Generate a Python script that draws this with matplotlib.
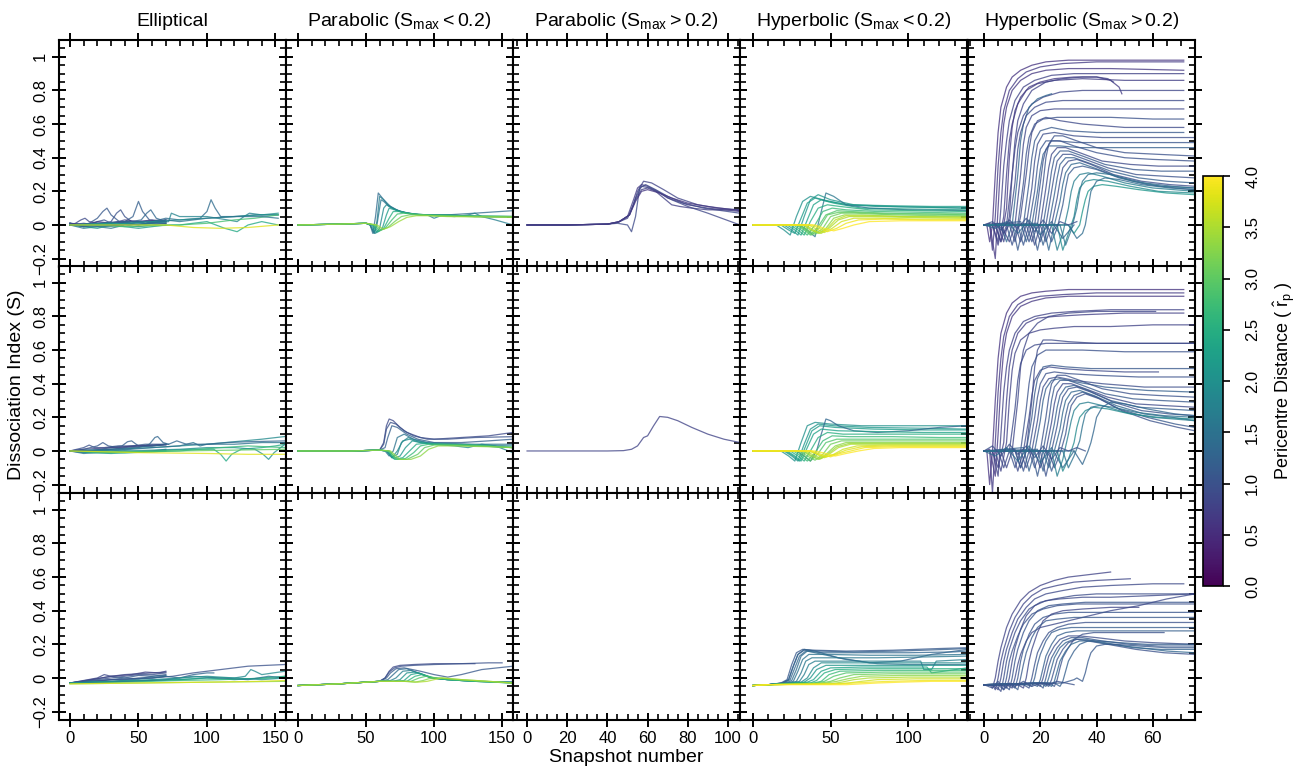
import numpy as np
import matplotlib
matplotlib.use("Agg")
import matplotlib.pyplot as plt
from matplotlib.ticker import MultipleLocator, FixedLocator, FixedFormatter
from matplotlib import cm, colors

plt.rcParams['font.family'] = ['Liberation Sans', 'DejaVu Sans']
plt.rcParams['mathtext.fontset'] = 'custom'
plt.rcParams['mathtext.rm'] = 'Liberation Sans'
plt.rcParams['mathtext.it'] = 'Liberation Sans:italic'
plt.rcParams['mathtext.bf'] = 'Liberation Sans:bold'

# Titres des colonnes
col_titles = ['Elliptical',
              r'Parabolic $\left(\mathrm{S_{max}<0.2}\right)$',
              r'Parabolic $\left(\mathrm{S_{max}>0.2}\right)$',
              r'Hyperbolic $\left(\mathrm{S_{max}<0.2}\right)$',
              r'Hyperbolic $\left(\mathrm{S_{max}>0.2}\right)$']

# Axes x par colonne
x_limits = [(-8, 157.7), (-8.8, 158), (-7, 106), (-8.3, 137.8), (-5.7, 75)]
x_major = [50, 50, 20, 50, 20]
x_minor = [10, 10, 5, 10, 5]
y_ticks = [-0.2, 0, 0.2, 0.4, 0.6, 0.8, 1.0]
y_tick_labels = ['\u22120.2', '0', '0.2', '0.4', '0.6', '0.8', '1']
cbar_ticks = [0.0, 0.5, 1.0, 1.5, 2.0, 2.5, 3.0, 3.5, 4.0]

# Courbes: (rp, snapshots, S)
ell_top = [
    (1.0, [0,5,10,15,20,25,30,35,40,45,50,55,60,65,70], [0.01,0.0,-0.01,0.0,0.02,0.03,0.01,0.0,0.02,0.01,0.02,0.01,0.02,0.02,0.02]),
    (1.1, [0,8,14,20,24,27,30,36,45,55,70], [0.01,0.0,0.01,0.04,0.08,0.10,0.06,0.02,0.01,0.02,0.02]),
    (1.2, [0,10,20,30,40,46,50,53,58,65,70], [0.01,-0.01,0.0,0.01,0.02,0.05,0.14,0.08,0.03,0.02,0.03]),
    (1.0, [0,10,20,30,34,37,40,45,55,70], [0.0,0.01,0.0,0.02,0.07,0.09,0.05,0.02,0.01,0.02]),
    (1.3, [0,15,30,45,52,56,59,63,70], [0.01,0.0,0.01,0.02,0.03,0.07,0.09,0.04,0.02]),
    (0.9, [0,4,8,11,14,20,30,40,50,60,70], [0.0,0.01,0.03,0.04,0.02,0.01,0.0,0.01,0.0,0.01,0.01]),
    (1.6, [0,10,20,30,40,50,60,70], [0.0,-0.02,-0.01,-0.02,0.0,-0.01,0.0,0.01]),
    (2.2, [0,10,20,30,40,50,60,70], [0.0,-0.01,-0.02,0.0,-0.01,-0.02,-0.01,0.0]),
    (0.8, [0,10,20,30,40,50,60,70], [0.01,0.0,0.02,0.01,0.03,0.02,0.03,0.02]),
    (0.7, [0,10,20,30,40,50,60,70], [0.0,0.005,0.01,0.015,0.02,0.02,0.025,0.03]),
    (1.2, [0,10,20,30,40,50,60,70], [0.005,-0.01,0.0,-0.005,0.01,0.0,0.015,0.01]),
    (1.4, [0,20,40,60,70,80,95,100,103,106,110,120,135,152], [0.0,0.01,0.02,0.02,0.04,0.03,0.04,0.08,0.15,0.1,0.05,0.05,0.06,0.06]),
    (1.8, [0,30,60,72,74,80,100,115,122,127,131,140,152], [0.0,0.0,0.01,0.02,0.07,0.05,0.05,0.03,0.02,0.05,0.07,0.06,0.06]),
    (2.4, [0,30,60,80,100,113,122,130,140,152], [0.0,0.01,0.0,0.0,0.02,-0.02,-0.04,0.0,0.02,0.0]),
    (2.8, [0,40,80,100,120,135,152], [0.0,-0.01,0.0,0.01,0.03,0.04,0.06]),
    (2.0, [0,20,40,60,80,100,120,140,152], [0.0,0.0,0.01,0.02,0.03,0.04,0.05,0.06,0.07]),
    (1.5, [0,20,40,60,70,80,90,100,120,140,152], [0.0,-0.01,0.0,0.01,0.03,0.02,0.03,0.04,0.05,0.05,0.04]),
    (3.8, [0,40,70,90,110,130,152], [0.0,0.0,0.0,-0.015,-0.02,-0.015,0.0]),
]
ell_mid = [
    (1.0, [0,10,14,18,25,35,45,55,70], [0.0,0.02,0.035,0.02,0.02,0.03,0.03,0.03,0.04]),
    (1.1, [0,10,20,24,28,35,45,55,65,70], [0.0,0.01,0.03,0.05,0.03,0.02,0.03,0.04,0.04,0.04]),
    (1.2, [0,15,30,38,42,45,50,60,70], [0.0,0.0,0.02,0.03,0.055,0.06,0.03,0.03,0.04]),
    (0.9, [0,10,20,30,40,50,60,70], [0.0,-0.01,0.0,0.01,0.02,0.03,0.03,0.04]),
    (1.3, [0,20,40,50,58,62,64,68,72], [0.0,0.0,0.01,0.02,0.04,0.08,0.086,0.05,0.04]),
    (1.6, [0,10,20,30,40,50,60,70], [0.0,-0.015,-0.01,-0.01,0.0,-0.005,0.0,0.01]),
    (2.3, [0,15,30,45,60,70], [0.0,-0.01,-0.015,-0.01,-0.005,0.0]),
    (0.8, [0,10,20,30,40,50,60,70], [0.0,0.01,0.015,0.02,0.025,0.03,0.035,0.035]),
    (1.9, [0,30,60,80,100,120,140,157], [0.0,0.01,0.02,0.03,0.04,0.055,0.07,0.086]),
    (1.5, [0,30,60,80,85,90,95,100,120,140,157], [0.0,0.0,0.02,0.03,0.04,0.05,0.03,0.04,0.04,0.05,0.05]),
    (2.4, [0,30,60,90,105,110,114,118,125,140,150,157], [0.0,-0.01,0.0,0.01,0.01,-0.02,-0.06,-0.02,0.01,0.02,0.03,0.04]),
    (2.0, [0,40,80,100,120,135,141,145,149,157], [0.0,0.0,0.01,0.02,0.02,0.01,-0.02,-0.05,-0.01,0.04]),
    (3.0, [0,40,80,120,157], [0.0,-0.005,0.0,0.005,0.01]),
    (2.7, [0,40,80,110,130,157], [0.0,-0.01,0.0,0.02,0.03,0.02]),
    (1.3, [0,30,60,72,78,85,100,115,130,157], [0.0,0.01,0.03,0.04,0.06,0.04,0.04,0.05,0.055,0.06]),
    (3.8, [0,50,100,130,157], [0.0,-0.01,-0.015,-0.02,-0.02]),
]
ell_bot = [
    (1.0, [0,10,20,30,40,50,60,70], [-0.03,-0.02,-0.01,0.0,0.01,0.02,0.02,0.03]),
    (0.9, [0,10,20,25,30,40,50,60,70], [-0.03,-0.015,0.0,0.02,0.01,0.02,0.025,0.03,0.035]),
    (1.1, [0,10,20,30,40,50,60,70], [-0.03,-0.02,-0.005,0.01,0.0,0.015,0.01,0.02]),
    (1.2, [0,10,20,30,40,50,60,70], [-0.03,-0.025,-0.02,-0.01,-0.01,0.0,0.0,0.01]),
    (0.8, [0,15,30,45,55,65,70], [-0.03,-0.01,0.01,0.02,0.035,0.03,0.04]),
    (1.3, [0,10,20,30,40,50,60,70], [-0.03,-0.02,-0.015,-0.01,0.0,-0.005,0.01,0.015]),
    (1.0, [0,30,60,75,90,110,130,157], [-0.03,-0.01,0.0,0.01,0.03,0.05,0.07,0.08]),
    (1.3, [0,30,60,70,80,90,100,105], [-0.03,-0.02,0.0,0.01,0.0,0.02,0.03,0.03]),
    (1.9, [0,40,80,100,120,128,132,135,140,157], [-0.03,-0.02,-0.01,0.0,0.0,0.01,0.05,0.04,0.02,0.04]),
    (2.3, [0,40,80,100,120,140,157], [-0.03,-0.02,-0.01,0.0,-0.01,0.0,0.01]),
    (2.6, [0,40,80,110,130,150,157], [-0.03,-0.025,-0.015,-0.01,-0.005,0.0,0.01]),
    (1.6, [0,40,70,90,110,130,145,157], [-0.03,-0.02,-0.01,0.01,0.0,-0.01,0.01,0.0]),
    (2.0, [0,30,60,80,100,120,140,157], [-0.03,-0.02,-0.01,0.0,0.01,0.0,-0.01,0.0]),
    (3.2, [0,50,100,157], [-0.035,-0.03,-0.025,-0.02]),
    (3.8, [0,50,100,140,157], [-0.035,-0.03,-0.025,-0.02,-0.015]),
]
par_lo_top = [
    (1.4, [0,30,50,53,55,57,59,62,66,72,80,90,110,130,158], [0.0,0.005,0.01,0.0,-0.05,0.05,0.19,0.16,0.12,0.09,0.07,0.06,0.06,0.07,0.085]),
    (1.6, [0,30,50,53,56,58,61,63,67,72,80,90,110,130,158], [0.0,0.005,0.01,0.0,-0.05,0.0,0.15,0.14,0.11,0.09,0.07,0.06,0.06,0.05,0.05]),
    (1.7, [0,30,50,53,56,58,60,63,68,75,85,95,100,105,115,125,130,135,145,158], [0.0,0.005,0.01,0.0,-0.05,0.02,0.17,0.15,0.11,0.08,0.065,0.06,0.04,0.055,0.05,0.06,0.07,0.05,0.03,0.0]),
    (1.9, [0,30,50,54,57,60,63,65,69,75,82,90,110,135,158], [0.0,0.005,0.01,0.0,-0.05,-0.02,0.10,0.12,0.10,0.08,0.07,0.06,0.06,0.05,0.045]),
    (2.2, [0,30,50,55,58,62,65,67,71,77,85,95,120,158], [0.0,0.005,0.01,0.0,-0.045,-0.02,0.06,0.1,0.09,0.075,0.065,0.06,0.055,0.05]),
    (2.5, [0,30,50,55,59,63,67,70,74,80,88,100,130,158], [0.0,0.005,0.01,0.0,-0.04,-0.02,0.04,0.08,0.08,0.07,0.06,0.055,0.05,0.05]),
    (2.8, [0,30,50,56,60,64,69,73,78,85,95,120,158], [0.0,0.005,0.01,0.0,-0.035,-0.02,0.03,0.065,0.07,0.065,0.06,0.055,0.05]),
    (3.1, [0,30,50,57,61,66,71,76,82,90,100,130,158], [0.0,0.005,0.01,0.0,-0.03,-0.015,0.02,0.05,0.06,0.06,0.055,0.05,0.05]),
    (3.4, [0,30,50,58,63,68,74,80,87,95,110,158], [0.0,0.005,0.01,0.0,-0.025,-0.01,0.02,0.045,0.055,0.055,0.05,0.045]),
]
par_lo_mid = [
    (0.9, [0,40,60,63,65,67,70,75,80,90,100,120,140,158], [0.0,0.0,0.005,0.05,0.15,0.19,0.18,0.14,0.11,0.08,0.07,0.08,0.09,0.11]),
    (1.0, [0,40,60,63,65,68,72,78,85,95,110,130,158], [0.0,0.0,0.005,0.04,0.13,0.17,0.16,0.12,0.09,0.07,0.07,0.08,0.085]),
    (1.2, [0,40,60,64,66,69,73,80,88,100,120,140,158], [0.0,0.0,0.005,0.02,0.08,0.15,0.14,0.10,0.07,0.05,0.05,0.06,0.07]),
    (1.5, [0,40,60,64,67,70,73,78,85,95,110,130,158], [0.0,0.0,0.005,0.0,-0.03,0.0,0.08,0.10,0.07,0.05,0.045,0.04,0.04]),
    (1.8, [0,40,60,65,69,73,76,81,88,97,115,135,158], [0.0,0.0,0.005,0.0,-0.04,-0.02,0.05,0.08,0.06,0.045,0.04,0.035,0.03]),
    (1.9, [0,40,60,65,69,73,77,82,90,100,115,125,135,145,158], [0.0,0.0,0.005,0.0,-0.04,0.0,0.06,0.07,0.05,0.04,0.03,0.02,0.04,0.03,-0.01]),
    (2.1, [0,40,60,66,70,75,79,84,90,100,120,158], [0.0,0.0,0.005,0.0,-0.045,-0.03,0.02,0.06,0.05,0.04,0.035,0.02]),
    (2.4, [0,40,60,66,71,77,82,87,93,102,125,158], [0.0,0.0,0.005,0.0,-0.05,-0.04,0.0,0.04,0.045,0.04,0.035,0.02]),
    (2.7, [0,40,60,67,72,79,85,90,96,105,130,158], [0.0,0.0,0.005,0.0,-0.05,-0.045,-0.01,0.03,0.04,0.04,0.035,0.02]),
    (3.0, [0,40,60,67,73,80,88,93,100,110,135,158], [0.0,0.0,0.005,0.0,-0.05,-0.05,-0.02,0.02,0.035,0.035,0.03,0.02]),
    (3.3, [0,40,60,68,75,83,90,96,103,115,140,158], [0.0,0.0,0.005,0.0,-0.05,-0.05,-0.03,0.01,0.03,0.03,0.025,0.02]),
]
par_lo_bot = [
    (0.9, [0,30,60,64,67,70,75,85,100,115,130], [-0.045,-0.035,-0.02,0.0,0.04,0.065,0.075,0.08,0.085,0.085,0.085]),
    (1.0, [0,30,60,64,67,71,76,85,100,120,140,150], [-0.045,-0.035,-0.02,0.0,0.035,0.06,0.07,0.075,0.08,0.085,0.09,0.09]),
    (1.1, [0,30,60,65,68,72,78,90,100,110,120,135,158], [-0.045,-0.035,-0.02,0.0,0.03,0.055,0.06,0.04,0.02,0.005,0.02,0.05,0.07]),
    (1.4, [0,30,60,66,70,74,80,88,98,110,130,158], [-0.045,-0.035,-0.02,-0.01,0.02,0.05,0.055,0.03,0.0,-0.01,-0.02,-0.025]),
    (1.7, [0,30,60,68,72,77,83,90,98,110,130,158], [-0.045,-0.035,-0.02,-0.015,0.0,0.04,0.045,0.025,0.0,-0.01,-0.02,-0.025]),
    (2.0, [0,30,60,70,75,80,86,92,98,110,130,158], [-0.045,-0.035,-0.02,-0.02,-0.01,0.03,0.035,0.02,0.0,-0.01,-0.02,-0.025]),
    (2.3, [0,30,60,72,78,83,89,94,99,110,130,158], [-0.045,-0.035,-0.02,-0.02,-0.015,0.02,0.03,0.015,0.0,-0.01,-0.02,-0.03]),
    (2.6, [0,30,60,74,80,86,91,96,100,110,130,158], [-0.045,-0.035,-0.02,-0.02,-0.02,0.01,0.02,0.01,0.0,-0.01,-0.02,-0.03]),
    (2.9, [0,30,60,76,83,89,94,98,102,115,135,158], [-0.045,-0.035,-0.02,-0.02,-0.02,0.0,0.01,0.005,0.0,-0.01,-0.02,-0.03]),
    (3.2, [0,30,60,78,86,92,96,100,105,120,140,158], [-0.045,-0.035,-0.02,-0.02,-0.025,-0.015,-0.005,0.0,0.0,-0.01,-0.02,-0.03]),
    (3.5, [0,30,60,80,88,95,100,106,120,140,158], [-0.045,-0.035,-0.02,-0.02,-0.025,-0.02,-0.01,0.0,-0.01,-0.02,-0.03]),
]
par_hi_top = [
    (0.7, [0,20,40,45,50,53,55,57,60,65,70,80,90,106], [0.0,0.0,0.005,0.015,0.05,0.15,0.22,0.24,0.23,0.20,0.16,0.12,0.10,0.08]),
    (0.8, [0,20,40,45,50,53,55,58,62,68,75,85,95,106], [0.0,0.0,0.005,0.015,0.04,0.12,0.2,0.26,0.25,0.21,0.16,0.12,0.10,0.09]),
    (0.9, [0,20,40,45,50,52,54,56,59,64,70,78,88,106], [0.0,0.0,0.005,0.01,0.0,-0.04,0.05,0.22,0.24,0.21,0.17,0.13,0.1,0.07]),
    (0.75, [0,20,40,46,51,54,57,60,64,68,72,76,82,90,106], [0.0,0.0,0.005,0.02,0.06,0.15,0.21,0.22,0.2,0.16,0.12,0.11,0.1,0.09,0.09]),
    (0.85, [0,20,40,46,51,54,57,61,66,72,80,90,106], [0.0,0.0,0.005,0.02,0.06,0.16,0.23,0.22,0.19,0.15,0.11,0.07,0.0]),
    (0.65, [0,20,40,46,51,54,57,60,66,72,80,90,106], [0.0,0.0,0.005,0.02,0.06,0.14,0.2,0.21,0.19,0.16,0.13,0.11,0.085]),
]
par_hi_mid = [
    (0.8, [0,20,40,48,52,55,58,60,63,66,70,75,82,90,98,106], [0.0,0.0,0.0,0.002,0.01,0.03,0.08,0.09,0.15,0.205,0.2,0.18,0.14,0.10,0.07,0.05]),
]
hyp_lo_top = [
    (2.0, [0,15,20,24,28,32,37,45,60,80,110,138], [0.0,0.0,-0.03,-0.06,0.05,0.14,0.17,0.15,0.12,0.11,0.105,0.10]),
    (2.1, [0,20,25,29,33,37,42,50,65,90,138], [0.0,0.0,-0.03,-0.06,0.05,0.15,0.18,0.15,0.12,0.11,0.10]),
    (2.2, [0,18,23,27,31,35,40,48,62,85,115,138], [0.0,0.0,-0.03,-0.05,0.04,0.13,0.16,0.14,0.12,0.115,0.11,0.11]),
    (2.3, [0,22,27,31,35,39,44,52,70,100,138], [0.0,0.0,-0.03,-0.06,0.03,0.12,0.15,0.13,0.10,0.095,0.09]),
    (1.6, [0,30,35,40,44,47,52,60,75,100,138], [0.0,0.0,-0.03,-0.07,0.08,0.19,0.17,0.12,0.1,0.09,0.085]),
    (2.5, [0,24,29,33,37,42,48,56,75,105,138], [0.0,0.0,-0.03,-0.06,0.02,0.10,0.12,0.11,0.09,0.085,0.08]),
    (2.7, [0,26,31,35,40,45,51,60,80,110,138], [0.0,0.0,-0.03,-0.06,0.0,0.08,0.1,0.09,0.08,0.075,0.07]),
    (2.9, [0,28,33,37,42,47,54,63,85,115,138], [0.0,0.0,-0.03,-0.06,-0.01,0.06,0.085,0.08,0.07,0.065,0.06]),
    (3.0, [0,29,34,38,43,48,55,64,88,138], [0.0,0.0,-0.03,-0.06,-0.015,0.06,0.075,0.075,0.065,0.065]),
    (3.1, [0,30,35,40,45,50,57,66,90,120,138], [0.0,0.0,-0.03,-0.055,-0.02,0.05,0.07,0.07,0.06,0.055,0.055]),
    (3.3, [0,32,37,42,47,52,59,70,95,138], [0.0,0.0,-0.03,-0.05,-0.02,0.04,0.06,0.06,0.05,0.05]),
    (3.5, [0,34,39,44,49,55,62,75,100,138], [0.0,0.0,-0.03,-0.05,-0.02,0.03,0.05,0.05,0.045,0.04]),
    (3.6, [0,33,38,43,48,53,60,72,95,138], [0.0,0.0,-0.03,-0.05,-0.02,0.03,0.055,0.055,0.05,0.045]),
    (3.7, [0,36,41,46,51,57,65,80,105,138], [0.0,0.0,-0.025,-0.045,-0.02,0.02,0.04,0.04,0.035,0.035]),
    (3.9, [0,38,43,48,54,60,68,85,110,138], [0.0,0.0,-0.02,-0.04,-0.02,0.01,0.03,0.035,0.03,0.03]),
    (4.0, [0,40,46,52,58,65,75,95,120,138], [0.0,0.0,-0.02,-0.035,-0.02,0.0,0.02,0.025,0.025,0.025]),
]
hyp_lo_mid = [
    (2.0, [0,18,23,27,31,35,40,50,70,100,138], [0.0,0.0,-0.03,-0.06,0.05,0.15,0.17,0.16,0.15,0.15,0.15]),
    (2.1, [0,20,25,29,33,37,42,52,75,110,138], [0.0,0.0,-0.03,-0.06,0.04,0.13,0.16,0.15,0.14,0.135,0.13]),
    (2.2, [0,21,26,30,34,38,43,53,78,110,138], [0.0,0.0,-0.03,-0.06,0.03,0.12,0.15,0.14,0.13,0.125,0.125]),
    (1.3, [0,28,33,37,41,44,47,50,55,65,80,100,120,138], [0.0,0.0,-0.03,-0.06,0.0,0.1,0.19,0.18,0.15,0.12,0.11,0.12,0.14,0.15]),
    (2.3, [0,22,27,31,35,39,44,55,80,110,138], [0.0,0.0,-0.03,-0.06,0.02,0.1,0.13,0.12,0.115,0.11,0.11]),
    (2.5, [0,24,29,33,37,42,48,58,85,115,138], [0.0,0.0,-0.03,-0.06,0.0,0.08,0.11,0.10,0.10,0.10,0.10]),
    (2.7, [0,26,31,35,40,45,51,62,90,120,138], [0.0,0.0,-0.03,-0.06,-0.01,0.06,0.09,0.085,0.085,0.08,0.08]),
    (2.9, [0,28,33,37,42,47,54,66,95,138], [0.0,0.0,-0.03,-0.06,-0.015,0.05,0.07,0.07,0.07,0.07]),
    (3.1, [0,30,35,40,45,50,57,70,100,138], [0.0,0.0,-0.03,-0.055,-0.02,0.04,0.06,0.06,0.06,0.06]),
    (3.3, [0,32,37,42,47,53,60,75,105,138], [0.0,0.0,-0.03,-0.05,-0.02,0.03,0.05,0.05,0.05,0.05]),
    (3.4, [0,33,38,43,48,54,62,78,108,138], [0.0,0.0,-0.03,-0.05,-0.02,0.025,0.045,0.045,0.045,0.045]),
    (3.5, [0,34,39,44,49,55,63,80,110,138], [0.0,0.0,-0.025,-0.045,-0.02,0.02,0.04,0.04,0.04,0.04]),
    (3.7, [0,36,41,46,52,58,67,85,115,138], [0.0,0.0,-0.02,-0.04,-0.02,0.01,0.03,0.035,0.035,0.035]),
    (3.8, [0,37,42,47,53,60,70,88,118,138], [0.0,0.0,-0.02,-0.035,-0.02,0.005,0.025,0.03,0.03,0.03]),
    (3.9, [0,38,44,50,56,63,72,90,120,138], [0.0,0.0,-0.02,-0.035,-0.015,0.0,0.02,0.025,0.025,0.025]),
    (4.0, [0,40,47,53,60,68,78,95,125,138], [0.0,0.0,-0.015,-0.03,-0.015,0.0,0.015,0.02,0.02,0.02]),
]
hyp_lo_bot = [
    (1.1, [0,10,18,22,25,28,32,40,60,90,120,138], [-0.045,-0.04,-0.03,-0.01,0.08,0.15,0.17,0.165,0.16,0.165,0.175,0.18]),
    (1.2, [0,10,19,23,26,29,33,42,65,95,125,138], [-0.045,-0.04,-0.03,-0.01,0.07,0.14,0.165,0.16,0.155,0.16,0.17,0.175]),
    (1.25, [0,10,19,23,26,29,33,40,55,75,95,115,138], [-0.045,-0.04,-0.03,-0.01,0.07,0.14,0.17,0.16,0.12,0.09,0.1,0.14,0.17]),
    (1.3, [0,10,20,24,27,30,34,45,70,100,130,138], [-0.045,-0.04,-0.03,-0.01,0.06,0.13,0.16,0.15,0.15,0.15,0.155,0.16]),
    (1.4, [0,10,21,25,28,31,35,45,60,80,100,120,138], [-0.045,-0.04,-0.03,-0.015,0.05,0.13,0.16,0.14,0.11,0.085,0.08,0.08,0.08]),
    (1.5, [0,10,22,26,29,32,36,48,75,105,138], [-0.045,-0.04,-0.03,-0.02,0.04,0.11,0.14,0.14,0.135,0.135,0.14]),
    (1.6, [0,10,24,28,31,34,38,50,80,110,138], [-0.045,-0.04,-0.03,-0.02,0.03,0.10,0.12,0.12,0.12,0.125,0.13]),
    (1.7, [0,10,25,30,33,36,40,55,85,108,110,115,118,138], [-0.045,-0.04,-0.03,-0.02,0.02,0.08,0.10,0.10,0.10,0.10,0.05,0.05,0.10,0.11]),
    (1.9, [0,10,26,31,35,39,44,60,90,138], [-0.045,-0.04,-0.03,-0.025,0.0,0.06,0.09,0.09,0.09,0.09]),
    (2.1, [0,10,28,33,37,41,47,65,95,138], [-0.045,-0.04,-0.03,-0.025,0.0,0.05,0.075,0.075,0.075,0.075]),
    (2.3, [0,10,30,35,39,44,50,70,100,112,115,138], [-0.045,-0.04,-0.03,-0.025,-0.01,0.04,0.06,0.065,0.065,0.065,0.03,0.06]),
    (2.5, [0,10,31,37,41,46,53,75,105,138], [-0.045,-0.04,-0.03,-0.03,-0.015,0.03,0.05,0.055,0.055,0.055]),
    (2.7, [0,10,33,39,44,49,56,80,110,138], [-0.045,-0.04,-0.03,-0.03,-0.02,0.02,0.04,0.045,0.045,0.045]),
    (2.9, [0,10,35,41,46,52,60,85,115,138], [-0.045,-0.04,-0.035,-0.03,-0.02,0.01,0.03,0.035,0.035,0.035]),
    (3.1, [0,10,37,44,50,56,65,90,120,138], [-0.045,-0.04,-0.035,-0.03,-0.02,0.0,0.02,0.025,0.025,0.025]),
    (3.3, [0,10,40,47,54,61,70,95,138], [-0.045,-0.04,-0.035,-0.03,-0.02,-0.005,0.01,0.015,0.015]),
    (3.5, [0,10,42,50,57,65,75,100,138], [-0.045,-0.04,-0.035,-0.035,-0.025,-0.01,0.0,0.005,0.005]),
    (3.7, [0,10,45,53,61,70,80,105,138], [-0.045,-0.04,-0.035,-0.035,-0.03,-0.02,-0.01,-0.005,-0.005]),
    (3.9, [0,10,48,56,65,75,88,110,138], [-0.045,-0.04,-0.035,-0.035,-0.03,-0.025,-0.02,-0.015,-0.015]),
    (4.0, [0,10,50,60,70,80,95,115,138], [-0.045,-0.04,-0.04,-0.04,-0.035,-0.03,-0.025,-0.02,-0.02]),
]
hyp_hi_top = [
    (0.6, [0,1,2,3,4,5,6,8,10,13,17,22,30,45,71], [0.0,0.0,-0.1,0.0,0.3,0.55,0.7,0.82,0.88,0.92,0.95,0.97,0.98,0.98,0.98]),
    (0.7, [0,2,3,4,5,6,7,9,12,15,20,28,40,55,71], [0.0,0.0,-0.15,0.05,0.35,0.55,0.68,0.8,0.87,0.91,0.94,0.96,0.97,0.97,0.97]),
    (0.65, [0,2,4,5,6,7,8,10,13,17,22,30,45,71], [0.0,0.01,-0.2,0.1,0.4,0.6,0.7,0.8,0.86,0.9,0.92,0.93,0.93,0.92]),
    (0.8, [0,3,5,6,7,8,9,11,14,18,24,32,45,60,71], [0.0,0.0,-0.1,0.1,0.35,0.5,0.62,0.74,0.82,0.86,0.89,0.9,0.9,0.9,0.9]),
    (0.75, [0,3,5,7,8,9,10,12,15,19,25,35,50,71], [0.0,0.0,-0.12,0.05,0.3,0.5,0.6,0.72,0.8,0.84,0.86,0.87,0.86,0.86]),
    (0.7, [0,4,6,8,9,10,11,13,16,20,25,32,40,45,48,49], [0.0,0.0,-0.1,0.1,0.4,0.58,0.68,0.76,0.82,0.85,0.87,0.88,0.88,0.86,0.82,0.78]),
    (0.85, [0,4,6,8,10,11,12,14,17,21,27,35,45,55,71], [0.0,0.0,-0.1,0.0,0.3,0.45,0.55,0.65,0.72,0.76,0.79,0.8,0.8,0.8,0.8]),
    (0.8, [0,5,7,9,10,11,12,14,17,22,28,35,40,44,46], [0.0,0.0,-0.1,0.05,0.3,0.5,0.62,0.72,0.8,0.85,0.87,0.88,0.88,0.87,0.85]),
    (1.3, [0,6,8,10,12,13,14,16,19,22,24], [0.0,0.0,-0.1,0.0,0.3,0.5,0.6,0.7,0.75,0.77,0.78]),
    (0.9, [0,5,7,9,11,12,13,15,18,22,28,35,50,71], [0.0,0.01,-0.05,0.0,0.25,0.45,0.55,0.65,0.7,0.73,0.74,0.74,0.74,0.74]),
    (0.85, [0,6,9,11,13,14,15,17,20,25,32,45,60,71], [0.0,0.0,-0.1,0.0,0.3,0.48,0.58,0.65,0.68,0.69,0.69,0.69,0.69,0.69]),
    (1.0, [0,8,10,12,14,15,16,18,21,26,33,45,60,71], [0.0,0.0,-0.12,0.0,0.25,0.42,0.52,0.6,0.63,0.64,0.64,0.64,0.63,0.63]),
    (0.9, [0,9,11,13,15,16,17,19,22,27,35,50,71], [0.0,0.0,-0.1,0.05,0.3,0.45,0.55,0.62,0.64,0.62,0.6,0.58,0.58]),
    (1.1, [0,10,12,14,16,17,18,20,24,30,40,55,71], [0.0,0.01,-0.15,0.0,0.25,0.4,0.5,0.56,0.58,0.56,0.55,0.55,0.55]),
    (0.95, [0,11,13,15,17,18,19,21,25,32,42,58,75], [0.0,0.0,-0.1,0.0,0.22,0.38,0.48,0.54,0.55,0.53,0.52,0.52,0.52]),
    (1.05, [0,12,14,16,18,19,20,22,26,33,45,60,75], [0.0,0.0,-0.12,0.0,0.2,0.35,0.45,0.5,0.5,0.49,0.49,0.49,0.49]),
    (1.2, [0,13,15,17,19,20,21,23,27,34,45,60,75], [0.0,0.02,-0.1,0.0,0.2,0.33,0.42,0.47,0.47,0.46,0.46,0.46,0.46]),
    (1.0, [0,15,17,19,21,22,23,25,28,33,40,50,62,75], [0.0,0.0,-0.1,0.0,0.25,0.4,0.48,0.53,0.53,0.5,0.46,0.43,0.42,0.41]),
    (1.0, [0,14,16,18,20,21,22,24,27,32,40,50,60,75], [0.0,0.0,-0.1,0.0,0.25,0.38,0.45,0.5,0.5,0.47,0.43,0.4,0.39,0.38]),
    (0.9, [0,16,18,20,22,23,24,26,29,34,42,52,62,75], [0.0,0.0,-0.12,0.0,0.22,0.34,0.42,0.46,0.46,0.43,0.38,0.36,0.35,0.35]),
    (1.1, [0,17,19,21,23,24,25,27,30,35,43,53,63,75], [0.0,0.0,-0.15,0.0,0.2,0.32,0.4,0.44,0.44,0.41,0.36,0.33,0.32,0.32]),
    (1.0, [0,18,20,22,24,25,26,28,31,36,44,54,64,75], [0.0,0.0,-0.1,0.0,0.2,0.3,0.38,0.42,0.42,0.39,0.34,0.3,0.29,0.28]),
    (1.2, [0,19,21,23,25,26,27,29,32,37,45,55,65,75], [0.0,0.01,-0.12,0.0,0.18,0.28,0.36,0.4,0.4,0.37,0.32,0.28,0.26,0.25]),
    (0.95, [0,20,22,24,26,27,28,30,33,38,46,56,66,75], [0.0,0.0,-0.1,0.0,0.16,0.26,0.34,0.38,0.39,0.36,0.3,0.26,0.24,0.23]),
    (1.3, [0,21,23,25,27,28,29,31,34,39,47,57,67,75], [0.0,0.0,-0.15,0.0,0.14,0.24,0.31,0.36,0.37,0.34,0.29,0.25,0.23,0.22]),
    (1.1, [0,22,24,26,28,29,30,32,35,40,48,58,68,75], [0.0,0.0,-0.1,-0.02,0.12,0.22,0.3,0.34,0.35,0.33,0.28,0.24,0.22,0.21]),
    (1.7, [0,24,26,28,30,31,32,34,37,42,50,60,75], [0.0,0.0,-0.15,-0.05,0.1,0.2,0.26,0.3,0.31,0.29,0.25,0.22,0.2]),
    (1.9, [0,26,28,30,32,33,34,36,39,44,52,62,75], [0.0,0.0,-0.15,-0.05,0.05,0.15,0.22,0.26,0.27,0.26,0.23,0.2,0.19]),
    (2.1, [0,30,32,34,35,36,37,39,42,47,55,65,75], [0.0,0.0,-0.05,0.0,0.08,0.15,0.2,0.23,0.24,0.23,0.21,0.19,0.18]),
    (1.5, [0,27,29,31,33,34,35,37,40,45,53,63,75], [0.0,0.0,-0.12,-0.03,0.1,0.2,0.26,0.3,0.31,0.3,0.26,0.23,0.22]),
    (1.4, [0,30,33,35,36,37,38,40,43,48,56,66,75], [0.0,0.0,-0.08,-0.05,0.0,0.1,0.2,0.26,0.28,0.27,0.24,0.22,0.21]),
    (1.0, [0,3,6,9,12,15,18,21,24,27,30,33], [0.0,0.02,-0.03,0.03,-0.02,0.04,-0.04,0.03,-0.05,0.02,0.0,0.02]),
    (1.3, [0,4,8,12,16,20,24,28,32], [0.0,-0.02,0.02,-0.05,0.03,-0.06,0.02,-0.08,0.0]),
]
hyp_hi_mid = [
    (0.6, [0,1,2,3,4,5,6,8,10,13,17,22,30,45,71], [0.0,0.0,-0.2,0.0,0.3,0.55,0.7,0.82,0.88,0.92,0.94,0.95,0.96,0.96,0.96]),
    (0.7, [0,2,3,4,5,6,7,9,12,15,20,28,40,55,71], [0.0,0.0,-0.25,0.05,0.35,0.55,0.68,0.8,0.87,0.9,0.92,0.93,0.94,0.94,0.94]),
    (0.65, [0,2,4,5,6,7,8,10,13,17,22,30,45,71], [0.0,0.01,-0.15,0.1,0.4,0.6,0.7,0.8,0.86,0.89,0.91,0.92,0.92,0.92]),
    (0.8, [0,3,5,6,7,8,9,11,14,18,24,32,45,60,71], [0.0,0.0,-0.15,0.1,0.35,0.5,0.6,0.7,0.77,0.8,0.82,0.83,0.84,0.84,0.84]),
    (0.75, [0,3,5,7,8,9,10,12,15,19,25,35,50,71], [0.0,0.0,-0.1,0.05,0.3,0.5,0.6,0.7,0.76,0.79,0.8,0.81,0.82,0.82]),
    (0.8, [0,4,6,8,9,10,11,13,16,20,25,32,45,60,75], [0.0,0.0,-0.12,0.05,0.3,0.48,0.58,0.66,0.7,0.72,0.73,0.74,0.74,0.75,0.75]),
    (0.85, [0,6,8,10,12,13,14,16,19,23,30,40,50,61], [0.0,0.0,-0.1,0.0,0.3,0.5,0.6,0.7,0.76,0.8,0.82,0.83,0.83,0.83]),
    (0.9, [0,5,7,9,11,12,13,15,18,22,30,45,60,75], [0.0,0.0,-0.1,0.0,0.25,0.42,0.52,0.6,0.63,0.64,0.64,0.64,0.64,0.64]),
    (0.9, [0,11,13,15,17,18,19,21,24,30,40,55,75], [0.0,0.0,-0.1,0.0,0.3,0.5,0.6,0.66,0.66,0.65,0.64,0.64,0.64]),
    (1.0, [0,9,11,13,15,16,17,19,22,27,35,50,75], [0.0,0.0,-0.1,0.0,0.25,0.4,0.5,0.57,0.6,0.6,0.6,0.59,0.59]),
    (0.9, [0,10,12,14,16,17,18,20,23,28,36,50,62], [0.0,0.0,-0.12,0.0,0.2,0.33,0.42,0.48,0.5,0.49,0.48,0.47,0.47]),
    (1.1, [0,11,13,15,17,18,19,21,24,29,38,52,75], [0.0,0.01,-0.1,0.0,0.2,0.34,0.43,0.5,0.51,0.5,0.49,0.49,0.49]),
    (1.0, [0,12,14,16,18,19,20,22,25,30,40,55,75], [0.0,0.0,-0.12,0.0,0.2,0.32,0.4,0.46,0.47,0.46,0.45,0.44,0.44]),
    (0.95, [0,13,15,17,19,20,21,23,26,32,42,57,75], [0.0,0.0,-0.1,0.0,0.18,0.3,0.38,0.43,0.44,0.42,0.4,0.38,0.38]),
    (1.2, [0,14,16,18,20,21,22,24,27,33,43,58,75], [0.0,0.02,-0.12,0.0,0.18,0.3,0.37,0.42,0.43,0.41,0.38,0.36,0.35]),
    (1.0, [0,16,18,20,22,23,24,26,29,34,42,52,62,75], [0.0,0.0,-0.1,0.0,0.2,0.32,0.4,0.45,0.45,0.42,0.37,0.34,0.33,0.32]),
    (1.1, [0,17,19,21,23,24,25,27,30,35,43,53,63,75], [0.0,0.0,-0.15,0.0,0.18,0.3,0.38,0.42,0.42,0.39,0.34,0.31,0.3,0.29]),
    (0.9, [0,18,20,22,24,25,26,28,31,36,44,54,64,75], [0.0,0.0,-0.1,0.0,0.17,0.28,0.35,0.4,0.4,0.37,0.32,0.28,0.27,0.26]),
    (1.2, [0,19,21,23,25,26,27,29,32,37,45,55,65,75], [0.0,0.01,-0.12,0.0,0.16,0.26,0.33,0.38,0.39,0.36,0.3,0.26,0.25,0.24]),
    (1.0, [0,20,22,24,26,27,28,30,33,38,46,56,66,75], [0.0,0.0,-0.15,0.0,0.15,0.25,0.32,0.37,0.38,0.35,0.29,0.24,0.22,0.21]),
    (1.3, [0,21,23,25,27,28,29,31,34,39,47,57,67,75], [0.0,0.0,-0.1,0.0,0.13,0.23,0.3,0.35,0.36,0.33,0.27,0.22,0.2,0.18]),
    (1.1, [0,22,24,26,28,29,30,32,35,40,48,58,68,75], [0.0,0.0,-0.12,-0.02,0.12,0.21,0.28,0.33,0.35,0.32,0.25,0.2,0.16,0.14]),
    (1.0, [0,23,25,27,29,30,31,33,36,41,49,59,69,75], [0.0,0.0,-0.1,-0.02,0.1,0.2,0.27,0.32,0.34,0.31,0.24,0.18,0.14,0.12]),
    (1.7, [0,24,26,28,30,31,32,34,37,42,50,60,75], [0.0,0.0,-0.15,-0.05,0.1,0.18,0.24,0.28,0.29,0.27,0.23,0.2,0.18]),
    (1.9, [0,26,28,30,32,33,34,36,39,44,52,62,75], [0.0,0.0,-0.12,-0.05,0.05,0.14,0.2,0.24,0.26,0.25,0.22,0.2,0.19]),
    (1.5, [0,28,30,32,34,35,36,38,41,46,54,64,75], [0.0,0.0,-0.1,-0.03,0.06,0.15,0.22,0.26,0.27,0.26,0.23,0.21,0.2]),
    (1.3, [0,32,35,37,38,39,40,42,45,50,58,68,75], [0.0,0.0,-0.08,0.0,0.05,0.12,0.2,0.26,0.29,0.28,0.25,0.22,0.21]),
    (1.0, [0,3,6,9,12,15,18,21,24,27,30,33,36], [0.0,0.03,-0.03,0.04,-0.02,0.03,-0.04,0.03,-0.05,0.02,0.0,0.02,0.0]),
    (1.4, [0,4,8,12,16,20,24,28,32], [0.0,-0.03,0.02,-0.06,0.03,-0.07,0.02,-0.1,0.0]),
]
hyp_hi_bot = [
    (0.8, [0,2,3,4,5,6,8,10,13,16,20,25,30,35,40,45], [-0.04,-0.04,-0.06,0.0,0.1,0.18,0.3,0.38,0.46,0.51,0.55,0.58,0.6,0.61,0.62,0.63]),
    (0.85, [0,3,4,5,6,7,9,11,14,17,21,26,32,40,52], [-0.04,-0.04,-0.07,0.0,0.1,0.17,0.28,0.36,0.44,0.49,0.53,0.55,0.57,0.58,0.59]),
    (0.9, [0,3,5,6,7,8,10,12,15,18,22,28,35,45,60,71], [-0.04,-0.04,-0.07,0.0,0.1,0.17,0.27,0.35,0.42,0.47,0.5,0.52,0.54,0.55,0.56,0.56]),
    (0.95, [0,4,6,7,8,9,11,13,16,20,25,32,40,55,75], [-0.04,-0.04,-0.08,0.0,0.1,0.17,0.27,0.34,0.41,0.45,0.47,0.49,0.5,0.5,0.5]),
    (0.9, [0,6,8,9,10,11,13,15,18,22,27,35,45,60,75], [-0.04,-0.04,-0.06,0.0,0.1,0.18,0.29,0.37,0.43,0.46,0.47,0.48,0.48,0.49,0.5]),
    (1.05, [0,7,9,10,11,12,14,16,19,23,28,36,46,60,75], [-0.04,-0.04,-0.07,0.0,0.1,0.17,0.27,0.34,0.4,0.43,0.44,0.45,0.45,0.45,0.45]),
    (1.0, [0,5,7,8,9,10,12,14,17,21,26,33,42,55,75], [-0.04,-0.04,-0.07,0.0,0.1,0.16,0.25,0.32,0.38,0.41,0.43,0.44,0.44,0.44,0.44]),
    (0.9, [0,8,10,11,12,13,15,17,20,25,35,45,55,65,75], [-0.04,-0.04,-0.06,0.0,0.08,0.14,0.22,0.27,0.3,0.32,0.36,0.4,0.43,0.47,0.5]),
    (1.05, [0,9,11,12,13,14,16,18,21,25,30,40,55,75], [-0.04,-0.04,-0.06,0.0,0.1,0.17,0.26,0.32,0.36,0.38,0.39,0.39,0.39,0.39]),
    (0.85, [0,12,14,15,16,17,19,21,24,28,35,45,55], [-0.04,-0.04,-0.06,0.0,0.1,0.17,0.27,0.34,0.38,0.4,0.41,0.42,0.42]),
    (1.1, [0,10,12,13,14,15,17,19,22,26,32,42,57,75], [-0.04,-0.04,-0.07,0.0,0.08,0.15,0.24,0.3,0.34,0.35,0.36,0.36,0.36,0.36]),
    (1.0, [0,14,16,17,18,19,21,23,26,30,36,46,60,75], [-0.04,-0.04,-0.06,0.0,0.08,0.15,0.22,0.27,0.3,0.32,0.33,0.33,0.33,0.33]),
    (1.15, [0,15,17,18,19,20,22,24,27,31,37,47,62,75], [-0.04,-0.04,-0.05,0.0,0.08,0.14,0.22,0.27,0.29,0.3,0.3,0.3,0.3,0.3]),
    (1.2, [0,17,19,20,21,22,24,26,29,33,40,50,62,75], [-0.04,-0.035,-0.05,-0.01,0.06,0.13,0.2,0.25,0.27,0.28,0.28,0.28,0.28,0.28]),
    (1.0, [0,23,25,26,27,28,30,32,35,39,46,55,64], [-0.04,-0.03,-0.05,-0.01,0.06,0.12,0.18,0.23,0.26,0.27,0.27,0.27,0.27]),
    (0.95, [0,18,20,21,22,23,25,27,30,34,40,50,60,75], [-0.04,-0.03,-0.05,0.0,0.07,0.13,0.19,0.23,0.25,0.25,0.24,0.22,0.21,0.2]),
    (1.1, [0,19,21,22,23,24,26,28,31,35,42,52,62,75], [-0.04,-0.03,-0.06,0.0,0.07,0.12,0.18,0.22,0.24,0.24,0.22,0.2,0.19,0.19]),
    (1.25, [0,20,22,23,24,25,27,29,32,36,43,53,63,75], [-0.04,-0.03,-0.05,0.0,0.06,0.12,0.18,0.21,0.23,0.23,0.21,0.18,0.17,0.17]),
    (1.0, [0,21,23,24,25,26,28,30,33,37,44,54,64,75], [-0.04,-0.03,-0.05,-0.01,0.05,0.11,0.17,0.21,0.23,0.22,0.2,0.17,0.15,0.14]),
    (1.3, [0,22,24,25,26,27,29,31,34,38,45,55,65,75], [-0.04,-0.03,-0.05,-0.02,0.04,0.1,0.16,0.2,0.22,0.22,0.2,0.18,0.16,0.15]),
    (1.2, [0,25,27,28,29,30,32,34,37,41,48,58,68,75], [-0.04,-0.03,-0.05,-0.02,0.04,0.1,0.16,0.2,0.22,0.22,0.21,0.2,0.2,0.2]),
    (1.1, [0,28,30,32,33,34,35,36,37,38,40,43,47,55,65,75], [-0.04,-0.03,-0.02,-0.01,0.0,-0.01,-0.02,0.03,0.1,0.15,0.19,0.2,0.2,0.19,0.18,0.18]),
    (1.0, [0,3,5,7,9,11,14,17,20,23,26,29,32], [-0.04,-0.06,-0.02,-0.07,-0.03,-0.05,-0.02,-0.05,-0.03,-0.04,-0.02,-0.03,-0.04]),
]

panels = {
    (0, 0): ell_top, (1, 0): ell_mid, (2, 0): ell_bot,
    (0, 1): par_lo_top, (1, 1): par_lo_mid, (2, 1): par_lo_bot,
    (0, 2): par_hi_top, (1, 2): par_hi_mid, (2, 2): [],
    (0, 3): hyp_lo_top, (1, 3): hyp_lo_mid, (2, 3): hyp_lo_bot,
    (0, 4): hyp_hi_top, (1, 4): hyp_hi_mid, (2, 4): hyp_hi_bot,
}

W, H = 1309, 769
fig = plt.figure(figsize=(W / 100, H / 100), dpi=100)
cmap = plt.get_cmap('viridis')
norm = colors.Normalize(vmin=0, vmax=4)

col_left = [59, 286, 513, 740, 968]
col_w = 227
row_top = [40, 266, 493]
row_h = 227

for r in range(3):
    for c in range(5):
        x0, y0 = col_left[c], row_top[r]
        ax = fig.add_axes([x0 / W, 1 - (y0 + row_h) / H, col_w / W, row_h / H])
        for rp, xs, ys in panels[(r, c)]:
            ax.plot(xs, ys, color=cmap(norm(rp)), lw=0.9, alpha=0.78)
        ax.set_xlim(*x_limits[c])
        ax.set_ylim(-0.25, 1.10)
        ax.xaxis.set_major_locator(MultipleLocator(x_major[c]))
        ax.xaxis.set_minor_locator(MultipleLocator(x_minor[c]))
        ax.yaxis.set_major_locator(FixedLocator(y_ticks))
        ax.yaxis.set_minor_locator(MultipleLocator(0.05))
        ax.tick_params(which='major', direction='inout', length=10, width=1.4,
                       top=True, right=True, labelsize=12, pad=3)
        ax.tick_params(which='minor', direction='in', length=4.5, width=1.2,
                       top=True, right=True)
        for s in ax.spines.values():
            s.set_linewidth(1.5)
        if c == 0:
            ax.yaxis.set_major_formatter(FixedFormatter(y_tick_labels))
            plt.setp(ax.get_yticklabels(), rotation=90, va='center', ha='right')
        else:
            ax.tick_params(labelleft=False)
        if r == 2:
            ax.xaxis.set_major_formatter(
                matplotlib.ticker.FuncFormatter(lambda v, p: f'{v:g}'))
        else:
            ax.tick_params(labelbottom=False)
        if r == 0:
            ax.set_title(col_titles[c], fontsize=14, pad=10)

fig.text(626 / W, 1 - 758 / H, 'Snapshot number', ha='center', va='center', fontsize=14)
fig.text(17 / W, 1 - 385 / H, 'Dissociation Index (S)', ha='center', va='center',
         rotation=90, fontsize=14)

# Barre de couleur
cax = fig.add_axes([1203 / W, 1 - 586 / H, 20 / W, 410 / H])
sm = cm.ScalarMappable(norm=norm, cmap=cmap)
cb = fig.colorbar(sm, cax=cax, ticks=cbar_ticks)
cb.outline.set_linewidth(1.2)
cb.ax.tick_params(length=5, width=1.2, labelsize=12, pad=11)
cb.ax.set_yticklabels([f'{v:.1f}' for v in cbar_ticks], rotation=90, va='center', ha='left')
cb.set_label(r'Pericentre Distance ( $\hat{\mathrm{r}}_{\mathrm{p}}$ )', fontsize=13, labelpad=8)

fig.savefig('out.png', dpi=100)
